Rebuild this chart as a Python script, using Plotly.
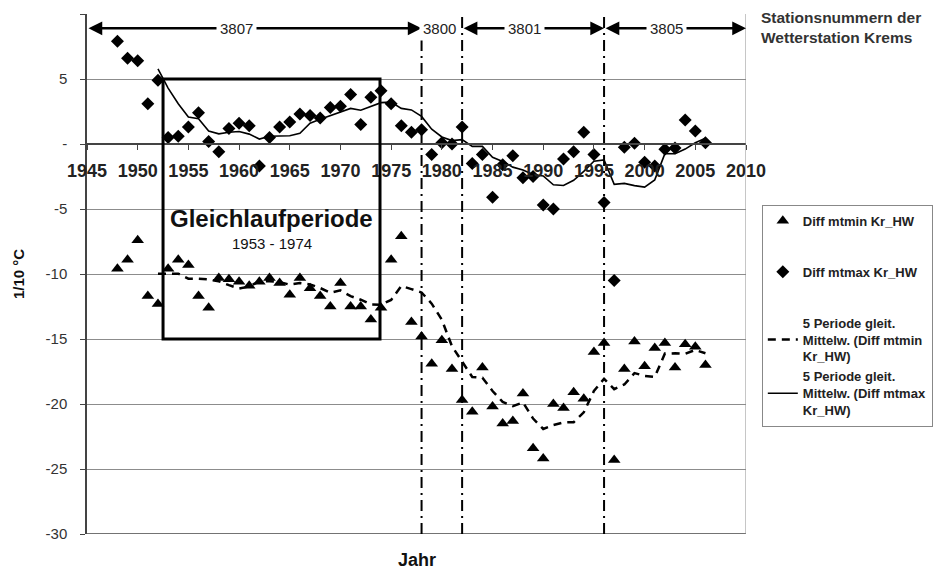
import plotly.graph_objects as go
import pandas as pd

# ---------------- data ----------------
years = list(range(1948, 2007))

diff_mtmax = [7.9, 6.6, 6.4, 3.1, 4.9, 0.5, 0.6, 1.3, 2.4, 0.2,
              -0.6, 1.2, 1.6, 1.4, -1.7, 0.5, 1.3, 1.7, 2.3, 2.2,
              2.0, 2.8, 2.9, 3.8, 1.5, 3.6, 4.1, 3.1, 1.4, 0.9,
              1.1, -0.8, 0.1, 0.0, 1.3, -1.5, -0.8, -4.1, -1.6, -0.9,
              -2.6, -2.5, -4.7, -5.0, -1.15, -0.6, 0.9, -0.8, -4.5, -10.5,
              -0.25, 0.05, -1.4, -1.7, -0.4, -0.3, 1.85, 1.0, 0.1]

diff_mtmin = [-9.6, -8.9, -7.4, -11.7, -12.3, -9.6, -8.9, -9.3, -11.7, -12.6,
              -10.3, -10.4, -10.6, -10.9, -10.6, -10.3, -10.7, -11.6, -10.3, -11.1,
              -11.7, -12.5, -10.7, -12.5, -12.5, -13.5, -12.6, -8.9, -7.1, -13.7,
              -14.8, -16.9, -15.1, -17.3, -19.7, -20.6, -17.2, -20.2, -21.5, -21.3,
              -19.2, -23.4, -24.2, -20.0, -20.3, -19.1, -19.6, -16.0, -15.3, -24.3,
              -17.3, -15.2, -17.1, -15.7, -15.3, -17.2, -15.4, -15.6, -17.0]

# Excel trendline "5 Periode gleit. Mittelw." (5-period moving average of the series)
ma_window = 5
ma_mtmin = pd.Series(diff_mtmin).rolling(ma_window).mean().tolist()
ma_mtmax = pd.Series(diff_mtmax).rolling(ma_window).mean().tolist()

# station periods
station_breaks = [1978, 1982, 1996]
station_spans = [(1945, 1978), (1982, 1996), (1996, 2010)]
station_labels = ["3807", "3800", "3801", "3805"]
station_label_x = [1959.7, 1979.8, 1988.2, 2002.2]

period_box = (1952.5, 1973.9, -15, 5)

y_ticks = [-30, -25, -20, -15, -10, -5, 0, 5, 10]
y_ticktext = ["-30", "-25", "-20", "-15", "-10", "-5", "-", "5", "10"]
x_ticks = list(range(1945, 2011, 5))

FONT = "Liberation Sans, Arial, sans-serif"

fig = go.Figure()

fig.add_trace(go.Scatter(
    x=years, y=diff_mtmin, mode="markers", name="Diff mtmin Kr_HW",
    legendgroup="g1",
    marker=dict(symbol="triangle-up", size=11, color="black")))
fig.add_trace(go.Scatter(
    x=years, y=diff_mtmax, mode="markers", name="Diff mtmax Kr_HW",
    legendgroup="g2",
    marker=dict(symbol="diamond", size=10, color="black")))
fig.add_trace(go.Scatter(
    x=years, y=ma_mtmin, mode="lines",
    name="5 Periode gleit.<br>Mittelw. (Diff mtmin<br>Kr_HW)",
    legendgroup="g3",
    line=dict(color="black", width=2.5, dash="8px,6px")))
fig.add_trace(go.Scatter(
    x=years, y=ma_mtmax, mode="lines",
    name="5 Periode gleit.<br>Mittelw. (Diff mtmax<br>Kr_HW)",
    legendgroup="g3",
    line=dict(color="black", width=1.6)))

shapes = []
# bottom frame line and right border
shapes.append(dict(type="line", xref="x", yref="y", x0=1945, x1=2010, y0=-30, y1=-30,
                   line=dict(color="#444", width=1.5)))
shapes.append(dict(type="line", xref="x", yref="y", x0=2010, x1=2010, y0=-30, y1=10,
                   line=dict(color="#8c8c8c", width=1)))
# station change lines
for b in station_breaks:
    shapes.append(dict(type="line", xref="x", yref="y", x0=b, x1=b, y0=-30, y1=10,
                       line=dict(color="black", width=2, dash="11px,5px,2px,5px")))
# Gleichlaufperiode box
x0, x1, y0, y1 = period_box
shapes.append(dict(type="rect", xref="x", yref="y", x0=x0, x1=x1, y0=y0, y1=y1,
                   line=dict(color="black", width=3), fillcolor="rgba(0,0,0,0)"))

annotations = []
arrow_y = 8.9
for (a, b) in station_spans:
    annotations.append(dict(x=b, y=arrow_y, ax=a, ay=arrow_y, xref="x", yref="y",
                            axref="x", ayref="y", text="", showarrow=True,
                            arrowhead=2, arrowside="end+start", arrowsize=1.1,
                            arrowwidth=2.5, arrowcolor="black"))
for lab, lx in zip(station_labels, station_label_x):
    annotations.append(dict(x=lx, y=arrow_y, xref="x", yref="y", text=lab,
                            showarrow=False, bgcolor="white", borderpad=3,
                            font=dict(size=15, color="#222", family=FONT)))

annotations.append(dict(x=1963.2, y=-5.7, xref="x", yref="y",
                        xanchor="center", yanchor="middle", borderpad=0,
                        text="<b>Gleichlaufperiode</b>", showarrow=False,
                        font=dict(size=24, color="#111", family=FONT)))
annotations.append(dict(x=1963.2, y=-7.62, xref="x", yref="y",
                        xanchor="center", yanchor="middle", borderpad=0,
                        text="1953 - 1974", showarrow=False,
                        font=dict(size=15, color="#111", family=FONT)))
annotations.append(dict(x=0.5, y=-0.05, xref="paper", yref="paper",
                        xanchor="center", yanchor="middle",
                        text="<b>Jahr</b>", showarrow=False,
                        font=dict(size=18, color="#111", family=FONT)))
annotations.append(dict(x=-0.1047, y=0.5, xref="paper", yref="paper",
                        xanchor="center", yanchor="middle",
                        text="<b>1/10 °C</b>", showarrow=False, textangle=-90,
                        font=dict(size=15, color="#111", family=FONT)))
annotations.append(dict(x=1.0197, y=1.0135, xref="paper", yref="paper",
                        xanchor="left", yanchor="top", align="left",
                        text="<b>Stationsnummern der<br>Wetterstation Krems</b>",
                        showarrow=False,
                        font=dict(size=15.5, color="#333", family=FONT)))

fig.update_layout(
    width=934, height=564,
    margin=dict(l=79, r=196, t=6, b=38, autoexpand=False),
    plot_bgcolor="white", paper_bgcolor="white",
    font=dict(family=FONT, color="#222"),
    shapes=shapes, annotations=annotations,
    showlegend=True,
    legend=dict(x=1.024, y=0.633, xanchor="left", yanchor="top",
                bordercolor="#888", borderwidth=1, bgcolor="white",
                font=dict(size=13, color="#222", family=FONT, weight="bold"),
                tracegroupgap=31, traceorder="grouped"),
    xaxis=dict(range=[1945, 2010], tickvals=x_ticks, anchor="free", position=0.75,
               automargin=False,
               showline=True, linecolor="#444", linewidth=1.5,
               ticks="outside", ticklen=5, tickcolor="#444",
               tickfont=dict(size=18, color="#222", family=FONT, weight="bold"),
               ticklabelstandoff=6,
               showgrid=False, zeroline=False),
    yaxis=dict(range=[-30, 10], tickvals=y_ticks, ticktext=y_ticktext,
               domain=[0, 1], automargin=False,
               showline=True, linecolor="#444", linewidth=1.5,
               ticks="outside", ticklen=5, tickcolor="#444",
               tickfont=dict(size=15, color="#333", family=FONT),
               ticklabelstandoff=10,
               showgrid=True, gridcolor="#8c8c8c", gridwidth=1, zeroline=False),
)

fig.write_html("out.html")
